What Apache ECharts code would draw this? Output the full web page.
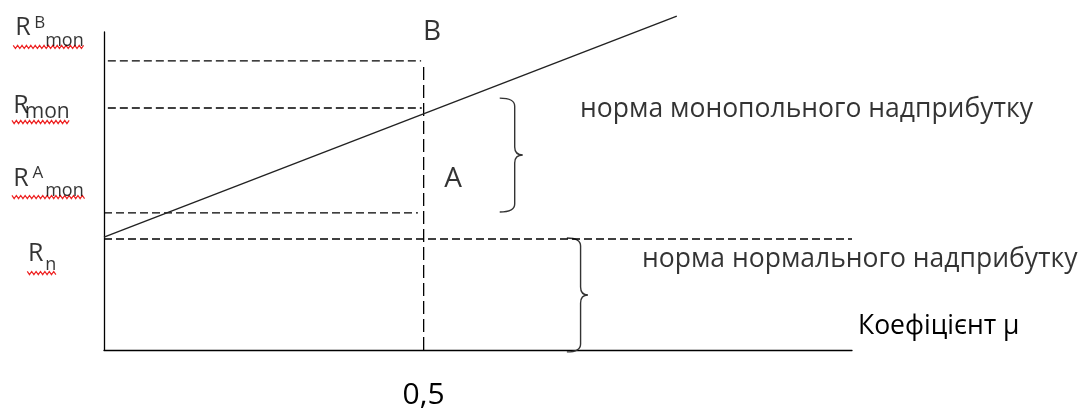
<!DOCTYPE html>
<html>
<head>
<meta charset="utf-8">
<script src="https://cdn.jsdelivr.net/npm/echarts@6/dist/echarts.min.js"></script>
<style>
html,body{margin:0;padding:0;background:#fff;}
#chart{width:1086px;height:413px;}
</style>
</head>
<body>
<div id="chart"></div>
<script>
// осі: коефіцієнт μ (x) та норма прибутку R (y), умовні одиниці
var muMax = 1.17;
var rMax = 10;
var muTicks = [0.5];
var muTickText = ['0,5'];

// пряма R(μ)
var lineMu = [0, 0.896];
var lineR = [3.55, 10.5];

// пунктирні рівні: R^B_mon, R_mon, R^A_mon, R_n
var levelR = [9.09, 7.61, 4.31, 3.49];
var levelFrom = [0.006, 0.006, 0, 0];
var levelTo = [0.496, 0.497, 0.491, 1.17];

// вертикаль μ = 0,5
var markMu = 0.5;
var markTop = 8.96;

// фігурні дужки: [лівий край, вістря, верх, низ]
var braces = [
    [0.619, 0.655, 7.92, 4.34],
    [0.724, 0.757, 3.52, -0.06]
];

// підписи ліворуч: [x, y, текст, розмір]
var sideText = [
    [-0.139, 10.13, 'R', 25], [-0.109, 10.27, 'B', 17], [-0.092, 9.72, 'mon', 18],
    [-0.142, 7.67, 'R', 25], [-0.124, 7.48, 'mon', 21],
    [-0.142, 5.39, 'R', 25], [-0.112, 5.56, 'A', 17], [-0.092, 5.0, 'mon', 18],
    [-0.119, 3.02, 'R', 25], [-0.092, 2.67, 'n', 18]
];
// хвилясті підкреслення: [x1, x2, y]
var waves = [
    [-0.142, -0.030, 9.53],
    [-0.144, -0.053, 7.17],
    [-0.144, -0.028, 4.81],
    [-0.120, -0.074, 2.42]
];
// точки B, A
var pointText = [[0.513, 10.0, 'B'], [0.546, 5.38, 'A']];
// пояснення
var noteText = [
    [0.7446, 7.55, 'норма монопольного надприбутку'],
    [0.8415, 2.86, 'норма нормального надприбутку']
];
var axisName = 'Коефіцієнт μ';

var font = '"Open Sans", sans-serif';
var ink = '#000';

var series = [];
for (var i = 0; i < levelR.length; i++) {
    series.push({
        type: 'line',
        data: [[levelFrom[i], levelR[i]], [levelTo[i], levelR[i]]],
        symbol: 'none',
        silent: true,
        clip: false,
        lineStyle: {color: '#000', width: 1.3, type: [8, 4]}
    });
}
series.push({
    type: 'line',
    data: [[markMu, 0], [markMu, markTop]],
    symbol: 'none',
    clip: false,
    lineStyle: {color: '#000', width: 1.3, type: [13, 5]}
});
series.push({
    type: 'line',
    data: [[lineMu[0], lineR[0]], [lineMu[1], lineR[1]]],
    symbol: 'none',
    clip: false,
    lineStyle: {color: '#222', width: 1.4}
});
// дужки
series.push({
    type: 'custom',
    clip: false,
    silent: true,
    data: braces,
    renderItem: function(params, api){
        var a = api.coord([api.value(0), api.value(2)]);
        var b = api.coord([api.value(1), api.value(3)]);
        var xl = a[0], xt = b[0], yt = a[1], yb = b[1];
        var xv = xl + (xt - xl) * 0.65;
        var ym = (yt + yb) / 2;
        var r = 8;
        var d = 'M' + xl + ',' + yt +
            'Q' + xv + ',' + yt + ' ' + xv + ',' + (yt + r) +
            'L' + xv + ',' + (ym - r) +
            'Q' + xv + ',' + ym + ' ' + xt + ',' + ym +
            'Q' + xv + ',' + ym + ' ' + xv + ',' + (ym + r) +
            'L' + xv + ',' + (yb - r) +
            'Q' + xv + ',' + yb + ' ' + xl + ',' + yb;
        return {
            type: 'path',
            shape: {pathData: d},
            style: {fill: null, stroke: '#333', lineWidth: 1.4}
        };
    }
});
// хвилясті лінії під позначеннями
series.push({
    type: 'custom',
    clip: false,
    silent: true,
    data: waves,
    renderItem: function(params, api){
        var p1 = api.coord([api.value(0), api.value(2)]);
        var p2 = api.coord([api.value(1), api.value(2)]);
        var pts = [];
        var k = 0;
        for (var x = p1[0]; x <= p2[0]; x += 2.2) {
            pts.push([x, p1[1] + (k % 2 ? 1.6 : -1.6)]);
            k++;
        }
        return {
            type: 'polyline',
            shape: {points: pts},
            style: {fill: null, stroke: '#ee2222', lineWidth: 1.2}
        };
    }
});
// тексти
function textSeries(rows, align, sizeOf){
    return {
        type: 'scatter',
        symbolSize: 0,
        clip: false,
        silent: true,
        data: rows.map(function(r){
            return {
                value: [r[0], r[1]],
                label: {
                    show: true,
                    formatter: r[2],
                    position: 'inside',
                    align: align,
                    verticalAlign: 'middle',
                    fontFamily: font,
                    fontSize: sizeOf(r),
                    color: ink
                }
            };
        })
    };
}
series.push(textSeries(sideText, 'left', function(r){ return r[3]; }));
series.push(textSeries(pointText, 'center', function(){ return 28; }));
series.push(textSeries(noteText, 'left', function(){ return 26.5; }));

var option = {
    animation: false,
    grid: {left: 104, right: 234, top: 32, bottom: 63},
    xAxis: {
        type: 'value',
        min: 0,
        max: muMax,
        name: axisName,
        nameLocation: 'end',
        nameGap: 6,
        nameTextStyle: {
            fontFamily: font, fontSize: 26.5, color: ink,
            align: 'left', verticalAlign: 'bottom', lineHeight: 48
        },
        axisLine: {lineStyle: {color: '#000', width: 1.3}},
        axisTick: {show: false},
        splitLine: {show: false},
        axisLabel: {
            customValues: muTicks,
            formatter: function(v){ return muTickText[muTicks.indexOf(v)] || ''; },
            margin: 30,
            fontFamily: font,
            fontSize: 30,
            color: ink
        }
    },
    yAxis: {
        type: 'value',
        min: 0,
        max: rMax,
        axisLine: {show: true, lineStyle: {color: '#000', width: 1.3}},
        axisTick: {show: false},
        axisLabel: {show: false},
        splitLine: {show: false}
    },
    series: series
};

var chart = echarts.init(document.getElementById('chart'));
chart.setOption(option);
</script>
</body>
</html>
